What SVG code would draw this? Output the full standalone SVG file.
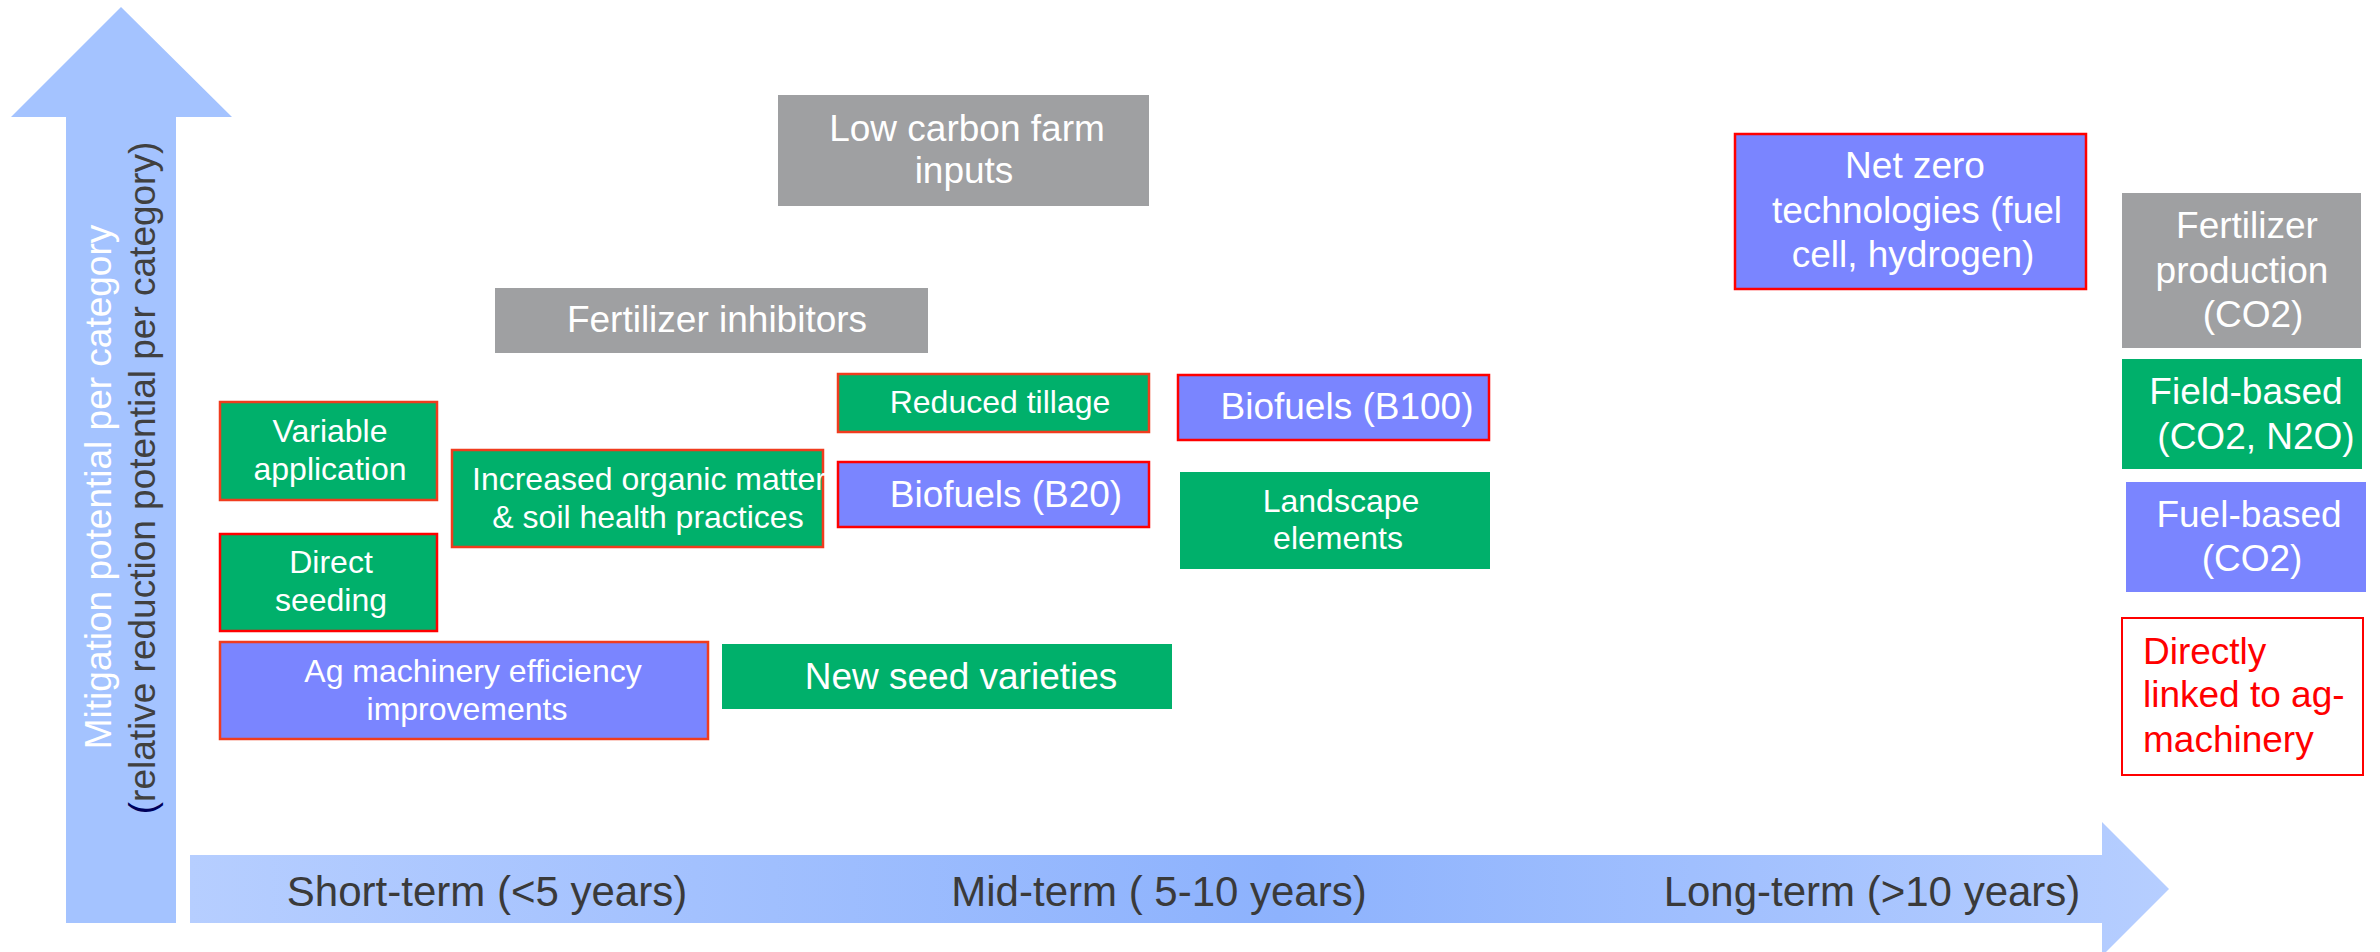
<svg xmlns="http://www.w3.org/2000/svg" width="2380" height="952" viewBox="0 0 2380 952">
<defs>
<linearGradient id="hg" x1="190" y1="0" x2="2169" y2="0" gradientUnits="userSpaceOnUse">
<stop offset="0" stop-color="#B6CEFF"/>
<stop offset="0.55" stop-color="#8DB2FD"/>
<stop offset="1" stop-color="#B6CEFF"/>
</linearGradient>
</defs>
<style>
text{font-family:"Liberation Sans",Arial,sans-serif}
.g{fill:#00B06B}
.b{fill:#7A85FF}
.gr{fill:#9FA0A2}
.ro{stroke:#F03C1E;stroke-width:2.5}
.rr{stroke:#FF0000;stroke-width:2.5}
.w{fill:#FFFFFF;text-anchor:middle}
.s32{font-size:32px}
.s37{font-size:37px}
.ax{fill:#3A3A3A;font-size:42px;text-anchor:middle}
</style>
<g id="axes">
<polygon id="v-arrow" points="121,7 232,117 176,117 176,923 66,923 66,117 11,117" fill="#A4C3FF"/>
<text transform="translate(111,487) rotate(-90)" class="w s37">Mitigation potential per category</text>
<text transform="translate(155,478) rotate(-90)" class="s37" fill="#404040" text-anchor="middle"><tspan fill="#00005A">(</tspan>relative reduction potential per category)</text>
<polygon id="h-arrow" points="190,855 2102,855 2102,822 2169,889 2102,956 2102,923 190,923" fill="url(#hg)"/>
<text x="487" y="906" class="ax">Short-term (&lt;5 years)</text>
<text x="1159" y="906" class="ax">Mid-term ( 5-10 years)</text>
<text x="1872" y="906" class="ax">Long-term (&gt;10 years)</text>
</g>
<g id="connectors"></g>
<g id="low-carbon">
<rect x="778" y="95" width="371" height="111" class="gr"/>
<text class="w s37"><tspan x="967" y="141">Low carbon farm</tspan><tspan x="964" y="183">inputs</tspan></text>
</g>
<g id="fert-inhib">
<rect x="495" y="288" width="433" height="65" class="gr"/>
<text x="717" y="332" class="w s37">Fertilizer inhibitors</text>
</g>
<g id="variable">
<rect x="220" y="402" width="217" height="98" class="g ro"/>
<text class="w s32"><tspan x="330" y="442">Variable</tspan><tspan x="330" y="480">application</tspan></text>
</g>
<g id="direct">
<rect x="220" y="534" width="217" height="97" class="g rr"/>
<text class="w s32"><tspan x="331" y="573">Direct</tspan><tspan x="331" y="611">seeding</tspan></text>
</g>
<g id="organic">
<rect x="452" y="450" width="371" height="97" class="g ro"/>
<text class="s32" fill="#FFFFFF"><tspan x="472" y="490">Increased organic matter</tspan><tspan x="648" y="528" text-anchor="middle">&amp; soil health practices</tspan></text>
</g>
<g id="ag-machinery">
<rect x="220" y="642" width="488" height="97" class="b ro"/>
<text class="w s32"><tspan x="473" y="682">Ag machinery efficiency</tspan><tspan x="467" y="720">improvements</tspan></text>
</g>
<g id="new-seed">
<rect x="722" y="644" width="450" height="65" class="g"/>
<text x="961" y="689" class="w s37">New seed varieties</text>
</g>
<g id="reduced-tillage">
<rect x="838" y="374" width="311" height="58" class="g ro"/>
<text x="1000" y="413" class="w s32">Reduced tillage</text>
</g>
<g id="b20">
<rect x="838" y="462" width="311" height="65" class="b rr"/>
<text x="1006" y="507" class="w s37">Biofuels (B20)</text>
</g>
<g id="b100">
<rect x="1178" y="375" width="311" height="65" class="b rr"/>
<text x="1347" y="419" class="w s37">Biofuels (B100)</text>
</g>
<g id="landscape">
<rect x="1180" y="472" width="310" height="97" class="g"/>
<text class="w s32"><tspan x="1341" y="512">Landscape</tspan><tspan x="1338" y="549">elements</tspan></text>
</g>
<g id="net-zero">
<rect x="1735" y="134" width="351" height="155" class="b rr"/>
<text class="w s37"><tspan x="1915" y="178">Net zero</tspan><tspan x="1917" y="223">technologies (fuel</tspan><tspan x="1913" y="267">cell, hydrogen)</tspan></text>
</g>
<g id="legend-fert">
<rect x="2122" y="193" width="239" height="155" class="gr"/>
<text class="w s37"><tspan x="2247" y="238">Fertilizer</tspan><tspan x="2242" y="283">production</tspan><tspan x="2253" y="327">(CO2)</tspan></text>
</g>
<g id="legend-field">
<rect x="2122" y="359" width="240" height="110" class="g"/>
<text class="w s37"><tspan x="2246" y="404">Field-based</tspan><tspan x="2256" y="449">(CO2, N2O)</tspan></text>
</g>
<g id="legend-fuel">
<rect x="2126" y="482" width="240" height="110" class="b"/>
<text class="w s37"><tspan x="2249" y="527">Fuel-based</tspan><tspan x="2252" y="571">(CO2)</tspan></text>
</g>
<g id="legend-direct">
<rect x="2122" y="618" width="241" height="157" fill="#FFFFFF" stroke="#FF0000" stroke-width="2"/>
<text class="s37" fill="#FF0000"><tspan x="2143" y="664">Directly</tspan><tspan x="2143" y="707">linked to ag-</tspan><tspan x="2143" y="752">machinery</tspan></text>
</g>
</svg>
